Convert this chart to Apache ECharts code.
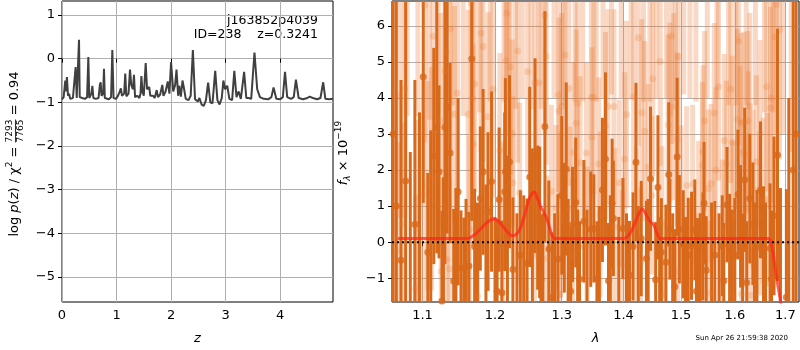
<!DOCTYPE html>
<html>
<head>
<meta charset="utf-8">
<title>redshift fit</title>
<script src="https://cdn.jsdelivr.net/npm/echarts@6/dist/echarts.min.js"></script>
<style>
  html, body { margin: 0; padding: 0; background: #fff; }
  #chart { width: 800px; height: 350px; }
</style>
</head>
<body>
<div id="chart"></div>
<script>
// ---- log p(z) curve ----
var pzZ = [0.0, 0.03, 0.06, 0.075, 0.09, 0.11, 0.13, 0.15, 0.2, 0.23, 0.25, 0.27, 0.30, 0.312, 0.325, 0.37, 0.40, 0.42, 0.46, 0.483,
  0.50, 0.54, 0.557, 0.575, 0.62, 0.67, 0.695, 0.709, 0.725, 0.755, 0.77, 0.785, 0.82, 0.86, 0.9, 0.923, 0.945, 0.99, 1.03, 1.06,
  1.08, 1.10, 1.14, 1.16, 1.18, 1.22, 1.247, 1.27, 1.30, 1.32, 1.34, 1.38, 1.42, 1.44, 1.456, 1.475, 1.50, 1.535, 1.56, 1.60,
  1.62, 1.67, 1.70, 1.737, 1.76, 1.80, 1.84, 1.86, 1.90, 1.94, 1.97, 2.00, 2.04, 2.075, 2.10, 2.13, 2.15, 2.18, 2.21, 2.24,
  2.27, 2.32, 2.36, 2.40, 2.44, 2.49, 2.52, 2.56, 2.60, 2.64, 2.68, 2.72, 2.76, 2.81, 2.85, 2.89, 2.93, 2.96, 2.99, 3.03,
  3.07, 3.12, 3.16, 3.20, 3.24, 3.28, 3.34, 3.38, 3.42, 3.47, 3.53, 3.58, 3.63, 3.70, 3.78, 3.84, 3.88, 3.93, 4.0, 4.05,
  4.09, 4.13, 4.2, 4.25, 4.29, 4.34, 4.42, 4.5, 4.54, 4.6, 4.68, 4.74, 4.79, 4.83, 4.9, 4.97];
var pzLog = [-0.93, -0.88, -0.5, -0.75, -0.42, -0.85, -0.8, -0.92, -0.9, -0.88, -0.19, -0.9, -0.88, 0.43, -0.88, -0.9, -0.87, -0.92, -0.88, 0.04,
  -0.9, -0.8, -0.62, -0.9, -0.92, -0.9, -0.6, -0.54, -0.85, -0.8, -0.23, -0.9, -0.92, -0.93, -0.88, 0.2, -0.9, -0.92, -0.84, -0.75,
  -0.68, -0.85, -0.8, -0.34, -0.86, -0.8, -0.25, -0.6, -0.7, -0.37, -0.88, -0.85, -0.9, -0.8, -0.4, -0.75, -0.85, -0.1, -0.7, -0.65,
  -0.85, -0.85, -0.9, -0.72, -0.88, -0.82, -0.6, -0.85, -0.75, -0.52, -0.8, -0.08, -0.75, -0.6, -0.25, -0.85, -0.62, -0.87, -0.5, -0.7,
  -0.92, -0.95, -0.85, 0.2, -0.93, -0.98, -0.9, -1.05, -1.08, -0.95, -0.55, -1.0, -1.02, -0.28, -0.95, -1.05, -0.9, -0.5, -0.7, -0.62,
  -0.92, -0.95, -0.28, -0.88, -0.75, -0.92, -0.3, -0.9, -0.9, -0.92, 0.14, -0.7, -0.88, -0.92, -0.93, -0.88, -0.66, -0.92, -0.93, -0.88,
  -0.3, -0.88, -0.92, -0.88, -0.48, -0.9, -0.93, -0.9, -0.87, -0.9, -0.93, -0.9, -0.54, -0.92, -0.93, -0.92];
var zTicks = [0, 1, 2, 3, 4];
var pzTicks = [-5, -4, -3, -2, -1, 0, 1];

// ---- spectrum: strong points (the last group has markers below the frame) ----
var darkWave = [1.062, 1.066, 1.072, 1.078, 1.090, 1.101, 1.107, 1.115, 1.119, 1.122, 1.126, 1.130, 1.133, 1.137, 1.142, 1.148, 1.152, 1.156, 1.163, 1.167,
  1.171, 1.179, 1.183, 1.190, 1.195, 1.203, 1.206, 1.210, 1.214, 1.215, 1.221, 1.226, 1.237, 1.247, 1.251, 1.259, 1.263, 1.266, 1.268, 1.274,
  1.280, 1.285, 1.294, 1.300, 1.304, 1.307, 1.314, 1.317, 1.322, 1.328, 1.335, 1.346, 1.351, 1.356, 1.365, 1.370, 1.375, 1.381, 1.383, 1.399,
  1.410, 1.416, 1.421, 1.430, 1.439, 1.446, 1.455, 1.459, 1.465, 1.473, 1.478, 1.480, 1.489, 1.493, 1.497, 1.504, 1.513, 1.519, 1.525, 1.528,
  1.530, 1.540, 1.542, 1.546, 1.562, 1.576, 1.579, 1.585, 1.590, 1.600, 1.606, 1.611, 1.619, 1.623, 1.629, 1.635, 1.643, 1.650, 1.656, 1.669,
  1.672, 1.677, 1.684, 1.702, 1.716, 1.722,
  1.084, 1.096, 1.111, 1.128, 1.145, 1.159, 1.175, 1.187, 1.200, 1.218, 1.232, 1.242, 1.255, 1.271, 1.289, 1.310, 1.325, 1.340, 1.360, 1.378,
  1.392, 1.405, 1.425, 1.442, 1.462, 1.485, 1.508, 1.535, 1.556, 1.570, 1.595, 1.615, 1.638, 1.660, 1.690, 1.707];
var darkFlux = [3.0, 1.0, -0.5, 1.7, 0.5, 4.59, -0.28, 2.39, 3.19, 1.95, -1.63, 3.19, 3.74, 2.47, -1.08, 1.4, -0.72, -0.72, -0.66, 5.09,
  -0.12, 1.21, 1.95, 0.85, 1.68, -1.36, 1.18, -1.4, 1.4, 1.95, 2.23, -0.76, -0.36, -0.59, 1.81, 2.4, 0.68, 0.55, -1.04, 3.21,
  -0.19, -1.53, -0.47, 1.3, 0.4, 2.03, -1.36, 0.49, 1.1, -1.02, 0.58, 0.36, 0.38, -1.02, 1.45, 2.31, -1.07, 1.07, 0.66, 0.38,
  -0.91, -0.12, 2.22, 0.1, -0.45, 1.76, -1.04, 1.52, -0.28, -0.56, 1.88, 0.36, -1.24, 2.36, 0.36, -0.06, -0.37, -0.1, 0.34, -1.36,
  -0.83, -0.12, 1.08, -0.78, -0.36, -0.1, -1.07, 1.04, -0.26, -0.37, 1.32, 0.44, 1.73, -1.12, 1.21, 0.51, -0.15, 1.45, -0.15, -0.17,
  -1.02, 0.73, 2.42, -1.53, 2.0, 3.0,
  -2.0, -2.4, -1.9, -2.2, -2.0, -1.8, -2.1, -1.9, -2.3, -1.8, -2.0, -2.1, -1.9, -2.2, -1.8, -2.0, -1.9, -2.1, -1.8, -2.0,
  -1.9, -2.2, -1.8, -2.0, -1.9, -2.1, -1.8, -2.0, -1.9, -1.8, -2.1, -1.9, -2.0, -2.2, -2.5, -2.0];
var darkErr = [8, 6, 5, 6, 4, 3.5, 2.2, 3.0, 3.5, 2.4, 2.5, 3.8, 3.5, 2.5, 2.0, 2.6, 1.6, 1.4, 1.5, 4.5,
  1.6, 2.0, 2.3, 2.2, 2.5, 2.0, 2.0, 2.0, 2.2, 2.6, 2.4, 2.0, 1.8, 1.8, 2.5, 2.7, 2.0, 2.1, 1.8, 3.2,
  1.9, 1.8, 1.8, 2.2, 1.8, 2.4, 1.8, 1.6, 1.8, 1.6, 1.7, 1.6, 1.5, 1.6, 2.0, 2.4, 1.6, 1.8, 1.6, 1.4,
  1.5, 1.5, 2.2, 1.6, 1.6, 2.0, 1.6, 2.0, 1.5, 1.6, 2.0, 1.4, 1.6, 2.2, 1.5, 1.5, 1.6, 1.5, 1.4, 1.6,
  1.5, 1.5, 1.7, 1.5, 1.5, 1.4, 1.6, 1.6, 1.6, 1.6, 1.8, 1.7, 2.0, 1.7, 1.8, 1.7, 1.6, 1.9, 1.7, 1.8,
  1.9, 2.2, 3.5, 3.0, 8, 8,
  4.5, 6.0, 5.0, 4.0, 3.5, 3.0, 3.2, 3.5, 3.0, 4.2, 2.8, 3.4, 4.5, 3.0, 2.6, 3.2, 2.8, 3.0, 2.8, 3.3,
  2.6, 3.0, 2.8, 3.2, 2.6, 2.9, 2.5, 2.8, 3.0, 2.6, 3.0, 2.7, 3.1, 3.3, 4.0, 6.0];

// ---- spectrum: weak points (the last group has markers above the frame) ----
var lightWave = [1.069, 1.071, 1.074, 1.077, 1.091, 1.092, 1.101, 1.103, 1.107, 1.112, 1.114, 1.124, 1.125, 1.130, 1.132, 1.133, 1.136, 1.137, 1.143, 1.147,
  1.162, 1.164, 1.166, 1.168, 1.169, 1.171, 1.175, 1.180, 1.183, 1.190, 1.197, 1.207, 1.211, 1.216, 1.217, 1.220, 1.222, 1.225, 1.226, 1.233,
  1.236, 1.245, 1.248, 1.258, 1.259, 1.265, 1.274, 1.276, 1.277, 1.284, 1.291, 1.295, 1.296, 1.297, 1.298, 1.300, 1.305, 1.311, 1.313, 1.317,
  1.319, 1.323, 1.325, 1.329, 1.339, 1.340, 1.347, 1.348, 1.351, 1.359, 1.361, 1.370, 1.374, 1.384, 1.385, 1.393, 1.398, 1.402, 1.405, 1.417,
  1.422, 1.425, 1.429, 1.431, 1.436, 1.442, 1.448, 1.450, 1.463, 1.466, 1.470, 1.477, 1.480, 1.483, 1.487, 1.493, 1.494, 1.495, 1.500, 1.510,
  1.521, 1.532, 1.539, 1.540, 1.543, 1.550, 1.553, 1.555, 1.561, 1.564, 1.569, 1.576, 1.580, 1.584, 1.592, 1.594, 1.595, 1.597, 1.605, 1.607,
  1.610, 1.612, 1.613, 1.617, 1.620, 1.625, 1.626, 1.629, 1.630, 1.635, 1.642, 1.648, 1.649, 1.655, 1.662, 1.664, 1.670, 1.671, 1.679, 1.682,
  1.688,
  1.080, 1.094, 1.109, 1.121, 1.140, 1.155, 1.178, 1.193, 1.213, 1.230, 1.240, 1.253, 1.268, 1.288, 1.303, 1.321, 1.333, 1.355, 1.366, 1.380,
  1.396, 1.413, 1.434, 1.445, 1.456, 1.474, 1.490, 1.505, 1.516, 1.527, 1.548, 1.566, 1.588, 1.602, 1.622, 1.640, 1.658, 1.675, 1.695, 1.712];
var lightFlux = [-0.23, 4.07, 0.51, 4.26, -1.29, 0.38, 1.32, 6.57, 1.57, 1.76, 5.71, 3.36, -0.81, 4.75, 5.29, -0.48, -0.74, 5.91, 3.55, 4.13,
  3.55, 0.36, 6.63, 3.98, 2.71, 4.39, -1.5, 5.8, 5.43, 3.48, 4.24, 2.55, 0.29, 5.04, 6.35, 4.13, 4.86, 3.02, 1.65, 5.3,
  1.37, -1.32, 4.73, -0.36, 4.42, 4.42, 6.29, 5.15, -0.45, 1.41, 0.95, 4.09, 3.63, -1.44, 0.75, 3.76, 5.19, 4.26, 0.91, -0.41,
  2.49, 3.3, 3.85, 2.2, 2.47, -0.1, 4.02, 2.91, 4.02, 2.17, 0.77, 3.23, 3.76, 3.76, 0.42, 1.65, -0.65, 2.31, 3.54, 4.02,
  0.45, 5.67, -0.58, 3.59, 3.08, 2.08, 1.3, 4.53, 5.01, 0.56, -1.46, 3.26, 3.59, 5.72, 3.76, 2.86, -0.8, 5.14, 1.04, 1.57,
  1.61, 0.71, 2.14, 2.51, 3.36, 1.48, -1.41, 1.63, 3.58, 2.0, 4.31, 0.29, 2.82, 2.18, 4.24, -1.46, 2.77, 0.71, 3.41, 5.58,
  2.49, 3.3, -1.44, 3.34, 0.85, 3.36, 2.44, 3.76, -1.47, 1.48, 2.23, 0.73, 3.01, 1.15, 4.31, 1.18, 3.73, 4.0, 5.69, 6.59,
  5.89,
  7.5, 8.0, 7.2, 7.8, 7.4, 7.0, 7.6, 7.3, 7.1, 7.5, 7.0, 7.7, 7.2, 7.0, 7.4, 7.1, 6.9, 7.3, 7.0, 6.9,
  7.2, 7.0, 7.5, 7.1, 6.9, 7.0, 7.3, 6.9, 7.0, 7.2, 7.0, 6.9, 7.1, 7.3, 7.0, 7.4, 7.6, 7.2, 8.0, 8.5];
var lightErr = [3.0, 3.4, 2.8, 3.6, 2.6, 3.0, 3.2, 3.8, 2.9, 3.1, 3.4, 3.0, 2.6, 3.2, 3.5, 2.8, 2.5, 3.4, 3.0, 3.2,
  2.9, 2.6, 3.6, 3.1, 2.8, 3.0, 2.4, 3.3, 3.2, 2.9, 3.0, 2.7, 2.5, 3.1, 3.4, 2.9, 3.0, 2.6, 2.4, 3.1,
  2.5, 2.3, 2.8, 2.4, 2.8, 2.8, 3.3, 3.0, 2.3, 2.4, 2.3, 2.7, 2.6, 2.2, 2.3, 2.6, 3.0, 2.7, 2.3, 2.2,
  2.5, 2.6, 2.8, 2.4, 2.5, 2.2, 2.7, 2.5, 2.7, 2.4, 2.3, 2.6, 2.7, 2.7, 2.2, 2.3, 2.1, 2.4, 2.6, 2.7,
  2.2, 3.0, 2.1, 2.6, 2.5, 2.3, 2.2, 2.7, 2.9, 2.1, 2.0, 2.5, 2.5, 3.0, 2.6, 2.4, 2.0, 2.8, 2.2, 2.2,
  2.2, 2.1, 2.3, 2.4, 2.5, 2.2, 2.0, 2.2, 2.5, 2.3, 2.6, 2.0, 2.4, 2.3, 2.6, 2.0, 2.4, 2.1, 2.5, 2.9,
  2.4, 2.5, 2.0, 2.5, 2.1, 2.5, 2.3, 2.6, 2.0, 2.2, 2.4, 2.2, 2.6, 2.3, 2.9, 2.4, 2.8, 2.9, 3.4, 3.6,
  3.6,
  4.0, 4.5, 3.8, 4.2, 3.6, 3.5, 4.0, 3.4, 3.2, 3.8, 3.0, 4.0, 3.5, 3.0, 3.6, 3.2, 3.0, 3.4, 3.0, 2.8,
  3.2, 3.0, 3.6, 3.2, 2.9, 3.0, 3.4, 2.8, 3.0, 3.3, 3.0, 2.9, 3.3, 3.5, 3.2, 3.6, 4.0, 3.6, 5.0, 6.0];

// ---- model ----
var modelWave = [1.068, 1.16, 1.165, 1.172, 1.18, 1.188, 1.194, 1.198, 1.204, 1.211, 1.218, 1.224, 1.230, 1.237, 1.244, 1.250, 1.255, 1.258, 1.262, 1.267,
  1.272, 1.277, 1.282, 1.2875, 1.30, 1.40, 1.408, 1.416, 1.424, 1.432, 1.438, 1.445, 1.452, 1.458, 1.463, 1.665, 1.670, 1.675, 1.680, 1.686, 1.692];
var modelFlux = [0.1, 0.1, 0.13, 0.22, 0.38, 0.54, 0.62, 0.64, 0.6, 0.45, 0.28, 0.18, 0.2, 0.38, 0.8, 1.2, 1.36, 1.39, 1.25, 1.0,
  0.84, 0.65, 0.35, 0.12, 0.1, 0.1, 0.18, 0.4, 0.72, 0.93, 0.78, 0.58, 0.47, 0.22, 0.1, 0.1, 0.02, -0.3, -0.8, -1.3, -1.8];
var lamTicks = [1.1, 1.2, 1.3, 1.4, 1.5, 1.6, 1.7];
var fluxTicks = [-1, 0, 1, 2, 3, 4, 5, 6];
var lamMin = 1.0605, lamMax = 1.728;

var darkColor = '#d8691b';
var lightColor = 'rgba(232,120,45,0.28)';
var ln = Math.log;

function minus(v) { return String(v).replace('-', '\u2212'); }

function errBar(width, color) {
  return function (params, api) {
    var cs = params.coordSys;
    var x = api.value(0), y = api.value(1), e = api.value(2);
    var p1 = api.coord([x, y + e]);
    var p2 = api.coord([x, y - e]);
    var top = Math.max(p1[1], cs.y);
    var bot = Math.min(p2[1], cs.y + cs.height);
    if (bot <= top) return null;
    return {
      type: 'rect',
      shape: { x: p1[0] - width / 2, y: top, width: width, height: bot - top },
      style: { fill: color }
    };
  };
}

function zip3(w, f, e) {
  return w.map(function (v, i) { return [ln(v), f[i], e[i]]; });
}

// text measuring for the rotated axis titles
var mctx = document.createElement('canvas').getContext('2d');
function tw(s, size, style) {
  mctx.font = (style || 'normal') + ' ' + size + 'px "DejaVu Sans"';
  return mctx.measureText(s).width;
}
function vLabel(cx, cy, segs) {
  var total = 0;
  segs.forEach(function (s) { s.w = s.frac ? tw(s.t, s.size) : tw(s.t, s.size, s.style); total += s.w; });
  var x = -total / 2, kids = [];
  segs.forEach(function (s) {
    if (s.frac) {
      kids.push({ type: 'text', x: x, y: -5, style: { text: s.t, font: s.size + 'px "DejaVu Sans"', fill: '#000', textVerticalAlign: 'middle' } });
      kids.push({ type: 'text', x: x, y: 6, style: { text: s.b, font: s.size + 'px "DejaVu Sans"', fill: '#000', textVerticalAlign: 'middle' } });
      kids.push({ type: 'line', shape: { x1: x, y1: 0.5, x2: x + s.w, y2: 0.5 }, style: { stroke: '#000', lineWidth: 0.8 } });
    } else {
      kids.push({ type: 'text', x: x, y: s.dy || 0, style: { text: s.t, font: (s.style || 'normal') + ' ' + s.size + 'px "DejaVu Sans"', fill: '#000', textVerticalAlign: 'middle' } });
    }
    x += s.w;
  });
  return { type: 'group', x: cx, y: cy, rotation: Math.PI / 2, children: kids };
}

var axisFont = { color: '#000', fontSize: 13, fontFamily: 'DejaVu Sans' };
var gridLine = { show: true, lineStyle: { color: '#b0b0b0', width: 1 } };

var chart = echarts.init(document.getElementById('chart'), null, { renderer: 'canvas' });

var option = {
  animation: false,
  grid: [
    { left: 62, right: 467, top: 1, bottom: 46, show: true, borderColor: '#000', borderWidth: 1, backgroundColor: 'transparent' },
    { left: 392, right: 1, top: 1, bottom: 46, show: true, borderColor: '#000', borderWidth: 1, backgroundColor: 'transparent' }
  ],
  xAxis: [
    {
      type: 'value', gridIndex: 0, min: 0, max: 4.97,
      axisLine: { show: false },
      axisTick: { show: true, length: 4, lineStyle: { color: '#000' }, customValues: zTicks },
      axisLabel: Object.assign({ margin: 7, customValues: zTicks }, axisFont),
      splitLine: gridLine,
      name: 'z', nameLocation: 'middle', nameGap: 30,
      nameTextStyle: { color: '#000', fontSize: 13, fontStyle: 'italic', fontFamily: 'DejaVu Sans' }
    },
    {
      type: 'value', gridIndex: 1, min: ln(lamMin), max: ln(lamMax),
      axisLine: { show: false },
      axisTick: { show: true, length: 4, lineStyle: { color: '#000' }, customValues: lamTicks.map(ln) },
      axisLabel: Object.assign({
        margin: 7, customValues: lamTicks.map(ln),
        formatter: function (v) { return Math.exp(v).toFixed(1); }
      }, axisFont),
      splitLine: gridLine,
      name: '\u03bb', nameLocation: 'middle', nameGap: 30,
      nameTextStyle: { color: '#000', fontSize: 13, fontStyle: 'italic', fontFamily: 'DejaVu Sans' }
    }
  ],
  yAxis: [
    {
      type: 'value', gridIndex: 0, min: -5.57, max: 1.32,
      axisLine: { show: false },
      axisTick: { show: true, length: 4, lineStyle: { color: '#000' }, customValues: pzTicks },
      axisLabel: Object.assign({ margin: 7, customValues: pzTicks, formatter: minus }, axisFont),
      splitLine: gridLine
    },
    {
      type: 'value', gridIndex: 1, min: -1.66, max: 6.69,
      axisLine: { show: false },
      axisTick: { show: true, length: 4, lineStyle: { color: '#000' }, customValues: fluxTicks },
      axisLabel: Object.assign({ margin: 7, customValues: fluxTicks, formatter: minus }, axisFont),
      splitLine: gridLine
    }
  ],
  series: [
    {
      type: 'line', xAxisIndex: 0, yAxisIndex: 0, showSymbol: false,
      data: pzZ.map(function (z, i) { return [z, pzLog[i]]; }),
      lineStyle: { color: '#404040', width: 2 }
    },
    {
      type: 'custom', xAxisIndex: 1, yAxisIndex: 1,
      data: zip3(lightWave, lightFlux, lightErr), renderItem: errBar(5, lightColor)
    },
    {
      type: 'scatter', xAxisIndex: 1, yAxisIndex: 1, symbolSize: 7,
      data: lightWave.map(function (w, i) { return [ln(w), lightFlux[i]]; }),
      itemStyle: { color: lightColor }
    },
    {
      type: 'custom', xAxisIndex: 1, yAxisIndex: 1,
      data: zip3(darkWave, darkFlux, darkErr), renderItem: errBar(3, darkColor)
    },
    {
      type: 'scatter', xAxisIndex: 1, yAxisIndex: 1, symbolSize: 7,
      data: darkWave.map(function (w, i) { return [ln(w), darkFlux[i]]; }),
      itemStyle: { color: darkColor }
    },
    {
      type: 'line', xAxisIndex: 1, yAxisIndex: 1, showSymbol: false, smooth: 0.25, clip: true,
      data: modelWave.map(function (w, i) { return [ln(w), modelFlux[i]]; }),
      lineStyle: { color: 'rgba(255,40,30,0.75)', width: 3 }
    },
    {
      type: 'line', xAxisIndex: 1, yAxisIndex: 1, showSymbol: false,
      data: [[ln(lamMin), 0], [ln(lamMax), 0]],
      lineStyle: { color: '#000', width: 2, type: [2, 3] }
    }
  ],
  graphic: [
    { type: 'text', right: 482, top: 14, style: { text: 'j163852p4039', font: '12.5px "DejaVu Sans"', fill: '#000', textAlign: 'right' } },
    { type: 'text', right: 482, top: 28, style: { text: 'ID=238    z=0.3241', font: '12.5px "DejaVu Sans"', fill: '#000', textAlign: 'right' } },
    { type: 'text', right: 12, top: 335, style: { text: 'Sun Apr 26 21:59:38 2020', font: '7px "DejaVu Sans"', fill: '#000' } },
    vLabel(15, 154, [
      { t: 'log ', size: 13 }, { t: 'p', size: 13, style: 'italic' }, { t: '(', size: 13 }, { t: 'z', size: 13, style: 'italic' },
      { t: ') / \u03c7', size: 13 }, { t: '2', size: 9, dy: -5 }, { t: ' = ', size: 13 },
      { t: '7293', b: '7765', size: 9, frac: true }, { t: ' = 0.94', size: 13 }
    ]),
    vLabel(344, 153, [
      { t: 'f', size: 13, style: 'italic' }, { t: '\u03bb', size: 9, style: 'italic', dy: 4 },
      { t: ' \u00d7 10', size: 13 }, { t: '\u221219', size: 9, dy: -5 }
    ])
  ]
};
chart.setOption(option);
</script>
</body>
</html>
